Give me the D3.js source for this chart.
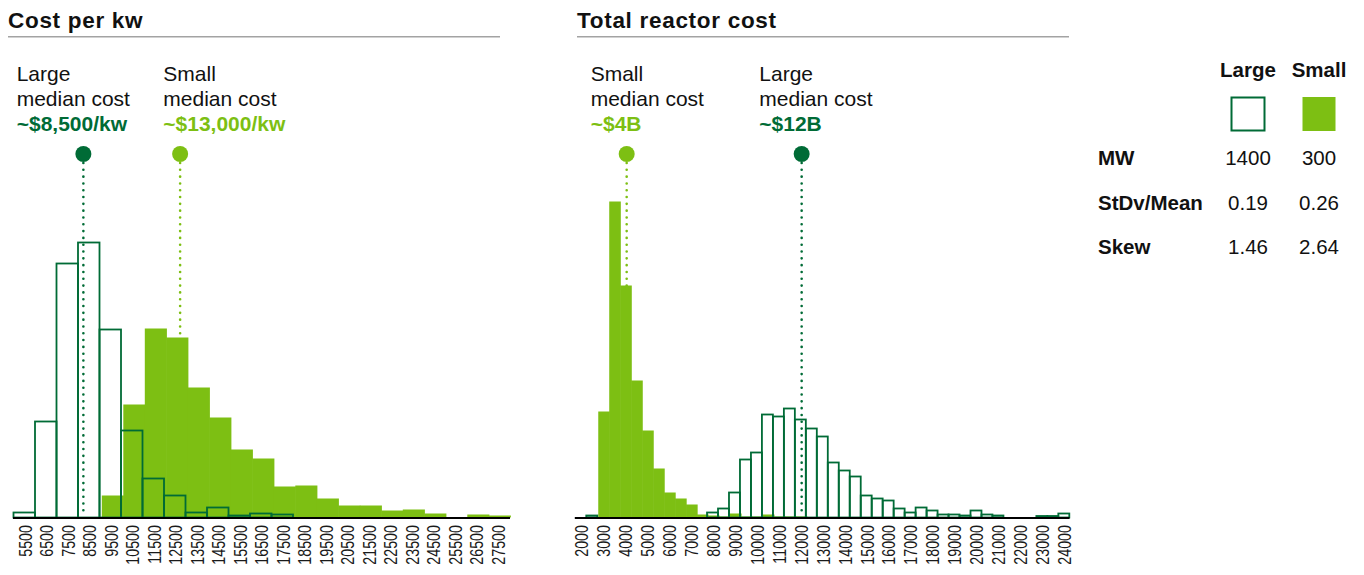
<!DOCTYPE html>
<html><head><meta charset="utf-8">
<script src="https://cdn.jsdelivr.net/npm/d3@7"></script>
<style>
body{margin:0;background:#fff}
svg{display:block;font-family:"Liberation Sans",Arial,Helvetica,sans-serif}
</style>
</head><body>
<svg id="chart" width="1364" height="575"></svg>
<script>
// ---------- data ----------
const costPerKwCategories = [5500,6500,7500,8500,9500,10500,11500,12500,13500,14500,15500,16500,17500,18500,19500,20500,21500,22500,23500,24500,25500,26500,27500];
const costPerKwLarge = [5,96,254,275,188,87,39,22,5,10,2,4,3,0,0,0,0,0,0,0,0,0,0];
const costPerKwSmall = [0,0,0,0,22,113,189,180,130,100,68,59,31,32,19,12,12,7,8,4,0,3,2];

const totalCostCategories = [2000,2500,3000,3500,4000,4500,5000,5500,6000,6500,7000,7500,8000,8500,9000,9500,10000,10500,11000,11500,12000,12500,13000,13500,14000,14500,15000,15500,16000,16500,17000,17500,18000,18500,19000,19500,20000,20500,21000,21500,22000,22500,23000,23500,24000];
const totalCostLarge = [0,2,0,0,0,0,0,0,0,0,0,0,5,9,25,58,65,103,101,109,98,89,81,55,47,41,22,19,17,9,5,10,7,3,3,2,7,3,2,0,0,0,1.5,1.5,4];
const totalCostSmall = [0,0,106,316,232,137,87,49,25,19,13,3,2,1,4,1,1,3,1,1,1,0,0,0,0,0,0,0,0,0,0,0,0,0,0,0,0,0,0,0,0,0,0,0,0];
const totalCostTickLabels = [2000,3000,4000,5000,6000,7000,8000,9000,10000,11000,12000,13000,14000,15000,16000,17000,18000,19000,20000,21000,22000,23000,24000];

const costPerKwMedians = [
  {series:"Large", value:8250, lines:["Large","median cost"], label:"~$8,500/kw"},
  {series:"Small", value:12750, lines:["Small","median cost"], label:"~$13,000/kw"}
];
const totalCostMedians = [
  {series:"Small", value:4090, lines:["Small","median cost"], label:"~$4B"},
  {series:"Large", value:12060, lines:["Large","median cost"], label:"~$12B"}
];

const legendSeries = ["Large","Small"];
const legendRows = ["MW","StDv/Mean","Skew"];
const legendValues = {Large:["1400","0.19","1.46"], Small:["300","0.26","2.64"]};

// ---------- style ----------
const DARK = "#006b36";
const LIGHT = "#7dbf13";
const svg = d3.select("#chart");
const baseY = 517.5;
const y = d3.scaleLinear().domain([0,320]).range([baseY, baseY-320]);

function panel(o){
  const g = svg.append("g");
  const step = o.categories[1]-o.categories[0];
  const x = d3.scaleLinear()
    .domain([o.categories[0]-step/2, o.categories[o.categories.length-1]+step/2])
    .range(o.range);
  // title + rule
  g.append("text").attr("x", o.titleX).attr("y", 28)
    .attr("font-size", 22.5).attr("font-weight", "bold").attr("letter-spacing", 0.7)
    .attr("fill", "#111").text(o.title);
  g.append("line").attr("x1", o.titleX).attr("x2", o.ruleEnd).attr("y1", 36.7).attr("y2", 36.7)
    .attr("stroke", "#a3a3a3").attr("stroke-width", 1.5);

  // median dotted lines (behind bars)
  const colorOf = s => s === "Large" ? DARK : LIGHT;
  g.selectAll(".mline").data(o.medians).enter().append("line")
    .attr("x1", d => x(d.value)).attr("x2", d => x(d.value))
    .attr("y1", 163).attr("y2", baseY - 1)
    .attr("stroke", d => colorOf(d.series)).attr("stroke-width", 2.6)
    .attr("stroke-linecap", "round").attr("stroke-dasharray", "0.01 6.8");

  // small filled bars
  const half = (x(step) - x(0)) / 2;
  const smallData = o.categories.map((c,i) => ({c, v:o.small[i]})).filter(d => d.v > 0);
  g.selectAll(".sbar").data(smallData).enter().append("rect")
    .attr("x", d => x(d.c) - half + o.smallOffset)
    .attr("width", half*2 + 0.6)
    .attr("y", d => y(d.v)).attr("height", d => baseY - y(d.v))
    .attr("fill", LIGHT);

  // large outline bars
  const largeData = o.categories.map((c,i) => ({c, v:o.large[i]})).filter(d => d.v > 0);
  g.selectAll(".lbar").data(largeData).enter().append("rect")
    .attr("x", d => x(d.c) - half)
    .attr("width", half*2)
    .attr("y", d => y(d.v)).attr("height", d => baseY - y(d.v))
    .attr("fill", "none").attr("stroke", DARK).attr("stroke-width", 1.8);

  // baseline axis
  g.append("line").attr("x1", o.range[0]-0.5).attr("x2", o.axisEnd)
    .attr("y1", baseY+0.5).attr("y2", baseY+0.5).attr("stroke", "#000").attr("stroke-width", 1.8);

  // rotated tick labels
  g.selectAll(".tick").data(o.tickLabels).enter().append("text")
    .attr("transform", d => `translate(${x(d)+1},525) rotate(-90) scale(1,1.22)`)
    .attr("text-anchor", "end").attr("dy", "0.36em")
    .attr("font-size", 14.3).attr("fill", "#1a1a1a").text(d => d);

  // median dots
  g.selectAll(".mdot").data(o.medians).enter().append("circle")
    .attr("cx", d => x(d.value)).attr("cy", 154).attr("r", 8)
    .attr("fill", d => colorOf(d.series));

  // annotation texts
  o.medians.forEach((d,i) => {
    const tx = o.annX[i];
    const t = g.append("text").attr("font-size", 21);
    t.append("tspan").attr("x", tx).attr("y", 80.5).attr("fill", "#111").text(d.lines[0]);
    t.append("tspan").attr("x", tx).attr("y", 105.5).attr("fill", "#111").text(d.lines[1]);
    t.append("tspan").attr("x", tx).attr("y", 130.5).attr("fill", colorOf(d.series))
      .attr("font-weight", "bold").text(d.label);
  });
}

panel({
  title:"Cost per kw", titleX:8, ruleEnd:500,
  categories:costPerKwCategories, large:costPerKwLarge, small:costPerKwSmall,
  tickLabels:costPerKwCategories, range:[13.5,508], axisEnd:510, smallOffset:2.3,
  medians:costPerKwMedians, annX:[16.7,163.3]
});
panel({
  title:"Total reactor cost", titleX:577, ruleEnd:1069,
  categories:totalCostCategories, large:totalCostLarge, small:totalCostSmall,
  tickLabels:totalCostTickLabels, range:[575.3,1069.3], axisEnd:1069.5, smallOffset:1,
  medians:totalCostMedians, annX:[590.7,759.3]
});

// ---------- legend table ----------
const lg = svg.append("g");
const colX = d3.scaleOrdinal().domain(legendSeries).range([1248, 1319]);
lg.selectAll(".hdr").data(legendSeries).enter().append("text")
  .attr("x", d => colX(d)).attr("y", 77).attr("text-anchor", "middle")
  .attr("font-size", 20.5).attr("font-weight", "bold").attr("fill", "#111").text(d => d);
lg.append("rect").attr("x", colX("Large")-16.5).attr("y", 97.5).attr("width", 33).attr("height", 33)
  .attr("fill", "#fff").attr("stroke", DARK).attr("stroke-width", 2);
lg.append("rect").attr("x", colX("Small")-16.5).attr("y", 97).attr("width", 33).attr("height", 34)
  .attr("fill", LIGHT);
const rowY = d3.scaleOrdinal().domain(legendRows).range([165, 210, 254]);
lg.selectAll(".rowlab").data(legendRows).enter().append("text")
  .attr("x", 1098).attr("y", d => rowY(d))
  .attr("font-size", 20.5).attr("font-weight", "bold").attr("fill", "#111").text(d => d);
legendSeries.forEach(s => {
  lg.selectAll(".val"+s).data(legendValues[s]).enter().append("text")
    .attr("x", colX(s)).attr("y", (d,i) => rowY(legendRows[i]))
    .attr("text-anchor", "middle").attr("font-size", 20.5).attr("fill", "#111").text(d => d);
});
</script>
</body></html>
